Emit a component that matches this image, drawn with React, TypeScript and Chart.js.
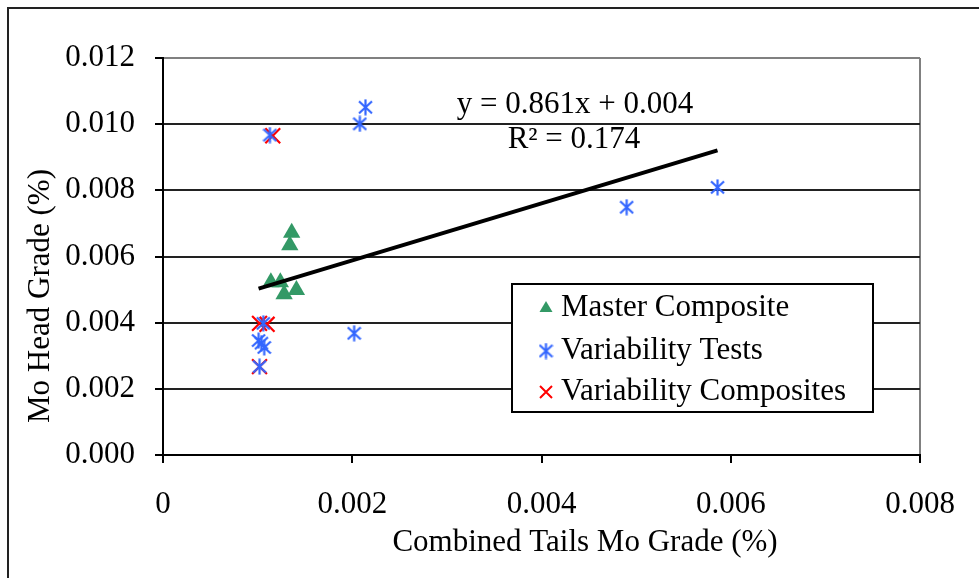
import React, { useEffect, useRef } from 'react';
import { Chart, registerables } from 'chart.js';

Chart.register(...registerables);

const FONT = "'Liberation Serif', 'Times New Roman', Times, serif";

// ---- Data ----
const SERIES_NAMES = ['Master Composite', 'Variability Tests', 'Variability Composites'];

const masterX = [0.00114, 0.00124, 0.00128, 0.00141, 0.00134, 0.00136];
const masterY = [0.00522, 0.00522, 0.00486, 0.00499, 0.00634, 0.00672];

const testsX = [0.00214, 0.00208, 0.00113, 0.00202, 0.00101, 0.00104, 0.00107, 0.00106, 0.00102, 0.0049, 0.00586];
const testsY = [0.01051, 0.01001, 0.00967, 0.00368, 0.00346, 0.00338, 0.00325, 0.00398, 0.00267, 0.00749, 0.00809];

const compX = [0.00116, 0.00102, 0.0011, 0.00102];
const compY = [0.00965, 0.00398, 0.00395, 0.00267];

const TREND_SLOPE = 0.861;
const TREND_INTERCEPT = 0.00416;
const EQUATION_TEXT = 'y = 0.861x + 0.004';
const R2_TEXT = 'R² = 0.174';

const X_TITLE = 'Combined Tails Mo Grade (%)';
const Y_TITLE = 'Mo Head Grade (%)';

const X_MIN = 0, X_MAX = 0.008, X_STEP = 0.002;
const Y_MIN = 0, Y_MAX = 0.012, Y_STEP = 0.002;

const GREEN = '#339966';
const BLUE = '#3366FF';
const RED = '#FF0000';

function pts(xs: number[], ys: number[]) {
  return xs.map((x, i) => ({ x, y: ys[i] }));
}

function makeAsterisk(color: string): HTMLCanvasElement {
  const c = document.createElement('canvas');
  c.width = 15;
  c.height = 17;
  const g = c.getContext('2d')!;
  g.strokeStyle = color;
  g.lineWidth = 2.2;
  g.beginPath();
  g.moveTo(7.5, 0.5); g.lineTo(7.5, 16.5);
  g.moveTo(1, 2.5); g.lineTo(14, 14.5);
  g.moveTo(1, 14.5); g.lineTo(14, 2.5);
  g.stroke();
  return c;
}

export default function App() {
  const ref = useRef<HTMLCanvasElement | null>(null);

  useEffect(() => {
    if (!ref.current) return;
    const asterisk = makeAsterisk(BLUE);

    const allX = [...masterX, ...testsX, ...compX];
    const tx0 = Math.min(...allX);
    const tx1 = Math.max(...allX);
    const trend = [
      { x: tx0, y: TREND_SLOPE * tx0 + TREND_INTERCEPT },
      { x: tx1, y: TREND_SLOPE * tx1 + TREND_INTERCEPT },
    ];

    const overlay = {
      id: 'overlay',
      afterDraw(chart: any) {
        const ctx = chart.ctx as CanvasRenderingContext2D;
        ctx.save();
        // outer frame
        ctx.strokeStyle = '#222';
        ctx.lineWidth = 2;
        ctx.beginPath();
        ctx.moveTo(8, 600);
        ctx.lineTo(8, 8);
        ctx.lineTo(990, 8);
        ctx.stroke();

        // axis titles
        ctx.fillStyle = '#000';
        ctx.font = `31px ${FONT}`;
        ctx.textAlign = 'center';
        ctx.textBaseline = 'middle';
        ctx.fillText(X_TITLE, 585, 543);
        ctx.save();
        ctx.translate(41, 296);
        ctx.rotate(-Math.PI / 2);
        ctx.fillText(Y_TITLE, 0, 0);
        ctx.restore();

        // trendline equation
        ctx.fillText(EQUATION_TEXT, 575, 105);
        ctx.fillText(R2_TEXT, 574, 140);

        // legend
        ctx.fillStyle = '#fff';
        ctx.fillRect(512, 284, 361, 128);
        ctx.strokeStyle = '#000';
        ctx.lineWidth = 2;
        ctx.strokeRect(512, 284, 361, 128);
        ctx.textAlign = 'left';
        const rows = [308, 351, 392];
        rows.forEach((y, i) => {
          ctx.fillStyle = '#000';
          ctx.fillText(SERIES_NAMES[i], 561, y);
          const mx = 546;
          if (i === 0) {
            ctx.fillStyle = GREEN;
            ctx.beginPath();
            ctx.moveTo(mx, y - 7);
            ctx.lineTo(mx + 6.5, y + 4);
            ctx.lineTo(mx - 6.5, y + 4);
            ctx.closePath();
            ctx.fill();
          } else if (i === 1) {
            ctx.drawImage(asterisk, mx - 7.5, y - 8.5);
          } else {
            ctx.strokeStyle = RED;
            ctx.lineWidth = 2;
            ctx.beginPath();
            ctx.moveTo(mx - 6, y - 6); ctx.lineTo(mx + 6, y + 6);
            ctx.moveTo(mx - 6, y + 6); ctx.lineTo(mx + 6, y - 6);
            ctx.stroke();
          }
        });
        ctx.restore();
      },
    };

    const near = (a: number, b: number) => Math.abs(a - b) < 1e-9;

    const chart = new Chart(ref.current, {
      type: 'scatter',
      data: {
        datasets: [
          {
            label: SERIES_NAMES[0],
            data: pts(masterX, masterY),
            pointStyle: 'triangle',
            pointRadius: 10,
            pointHoverRadius: 10,
            backgroundColor: GREEN,
            borderColor: GREEN,
            borderWidth: 0,
          },
          {
            label: SERIES_NAMES[1],
            data: pts(testsX, testsY),
            pointStyle: asterisk as any,
            pointRadius: 8,
            backgroundColor: BLUE,
            borderColor: BLUE,
          },
          {
            label: SERIES_NAMES[2],
            data: pts(compX, compY),
            pointStyle: 'crossRot',
            pointRadius: 10.5,
            pointHoverRadius: 10.5,
            borderColor: RED,
            backgroundColor: RED,
            borderWidth: 2.2,
          },
          {
            type: 'line',
            label: 'Linear trend',
            data: trend,
            borderColor: '#000',
            borderWidth: 4,
            pointRadius: 0,
            fill: false,
            order: -1,
          } as any,
        ],
      },
      options: {
        responsive: false,
        maintainAspectRatio: false,
        animation: false,
        devicePixelRatio: 1,
        layout: { padding: { top: 58, right: 59, left: 0, bottom: 0 } },
        plugins: {
          legend: { display: false },
          tooltip: { enabled: false },
        },
        scales: {
          x: {
            type: 'linear',
            min: X_MIN,
            max: X_MAX,
            afterFit: (s: any) => { s.height = 123; },
            ticks: {
              stepSize: X_STEP,
              color: '#000',
              font: { family: FONT, size: 31 },
              padding: 23,
              maxRotation: 0,
              callback: (v: any) => (Number(v) === 0 ? '0' : Number(v).toFixed(3)),
            },
            grid: {
              color: (c: any) => (c.tick && near(c.tick.value, X_MAX) ? '#808080' : 'rgba(0,0,0,0)'),
              tickColor: '#000',
              lineWidth: 2,
              tickLength: 8,
            },
            border: { display: true, color: '#000', width: 2 },
          },
          y: {
            type: 'linear',
            min: Y_MIN,
            max: Y_MAX,
            afterFit: (s: any) => { s.width = 163; },
            ticks: {
              stepSize: Y_STEP,
              color: '#000',
              font: { family: FONT, size: 31 },
              padding: 20,
              callback: (v: any) => Number(v).toFixed(3),
            },
            grid: {
              color: (c: any) => (c.tick && near(c.tick.value, Y_MAX) ? '#808080' : '#222'),
              tickColor: '#000',
              lineWidth: 2,
              tickLength: 8,
            },
            border: { display: true, color: '#000', width: 2 },
          },
        },
      },
      plugins: [overlay],
    });

    return () => chart.destroy();
  }, []);

  return (
    <div style={{ position: 'absolute', left: 0, top: 0, width: 979, height: 578, background: '#fff' }}>
      <canvas ref={ref} width={979} height={578} style={{ display: 'block' }} />
    </div>
  );
}
